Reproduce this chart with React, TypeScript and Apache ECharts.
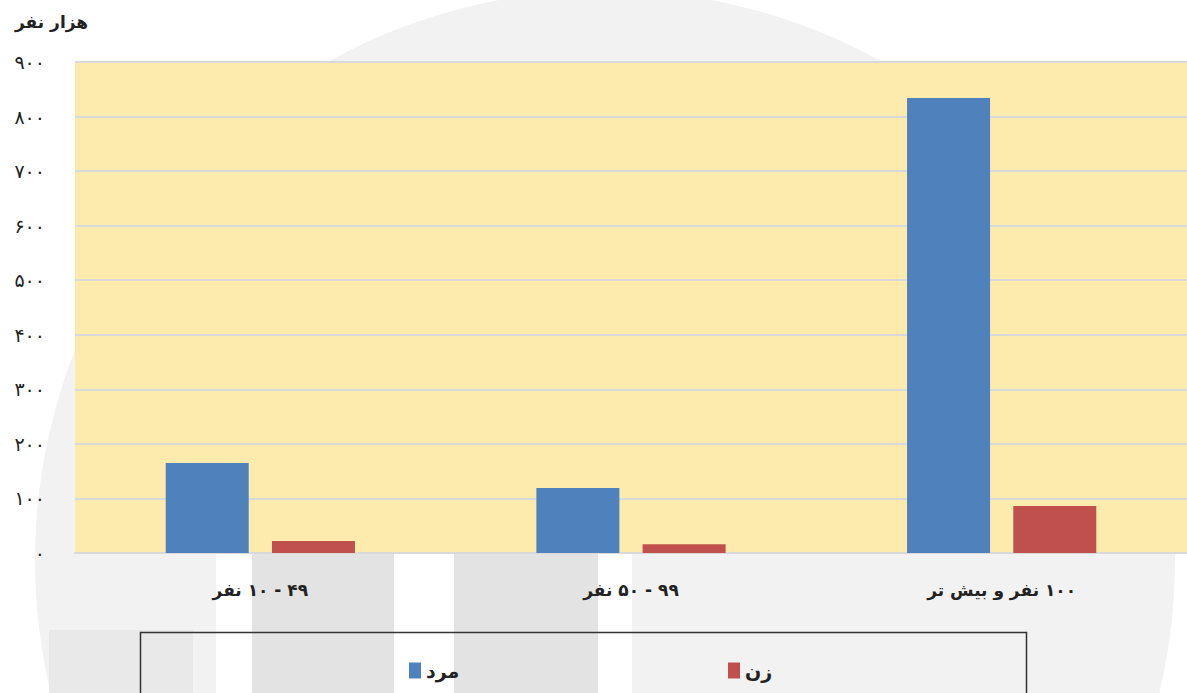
import React, { useEffect, useRef } from "react";
import * as echarts from "echarts";

const RLM = "\u200F";
const categories = [RLM + "۴۹ - ۱۰ نفر", RLM + "۹۹ - ۵۰ نفر", RLM + "۱۰۰ نفر و بیش تر"];
const maleValues = [165, 119, 834];
const femaleValues = [22, 16, 86];
const yTickLabels = ["۰", "۱۰۰", "۲۰۰", "۳۰۰", "۴۰۰", "۵۰۰", "۶۰۰", "۷۰۰", "۸۰۰", "۹۰۰"];
const seriesNames = ["مرد", "زن"];
const unitTitle = "هزار نفر";

const FONT = "'DejaVu Sans', 'Noto Sans', sans-serif";

export default function App() {
  const ref = useRef<HTMLDivElement>(null);
  useEffect(() => {
    const chart = echarts.init(ref.current!, null, { renderer: "svg" });
    chart.setOption({
      animation: false,
      backgroundColor: "#ffffff",
      title: {
        text: unitTitle,
        left: 10,
        top: 8,
        textStyle: { fontFamily: FONT, fontSize: 17, fontWeight: "bold", color: "#222" },
      },
      graphic: [
        { type: "circle", z: -10, shape: { cx: 605, cy: 560, r: 570 }, style: { fill: "#f2f2f2" } },
        { type: "rect", z: -9, shape: { x: 252, y: 420, width: 142, height: 273 }, style: { fill: "#e3e3e3" } },
        { type: "rect", z: -9, shape: { x: 454, y: 420, width: 144, height: 273 }, style: { fill: "#e3e3e3" } },
        { type: "rect", z: -9, shape: { x: 216, y: 420, width: 36, height: 273 }, style: { fill: "#ffffff" } },
        { type: "rect", z: -9, shape: { x: 394, y: 420, width: 60, height: 273 }, style: { fill: "#ffffff" } },
        { type: "rect", z: -9, shape: { x: 598, y: 420, width: 34, height: 273 }, style: { fill: "#ffffff" } },
        { type: "rect", z: -9, shape: { x: 49, y: 630, width: 144, height: 63 }, style: { fill: "#e9e9e9" } },
        {
          type: "rect",
          z: 5,
          shape: { x: 140.5, y: 632.5, width: 886, height: 70 },
          style: { fill: "none", stroke: "#333", lineWidth: 1.5 },
        },
      ],
      legend: [
        {
          data: [seriesNames[0]],
          left: 404,
          top: 656,
          icon: "rect",
          itemWidth: 12,
          itemHeight: 16,
          itemGap: 5,
          textStyle: { fontFamily: FONT, fontSize: 19, fontWeight: "bold", color: "#222" },
        },
        {
          data: [seriesNames[1]],
          left: 723,
          top: 656,
          icon: "rect",
          itemWidth: 12,
          itemHeight: 16,
          itemGap: 5,
          textStyle: { fontFamily: FONT, fontSize: 19, fontWeight: "bold", color: "#222" },
        },
      ],
      grid: {
        left: 75,
        right: 0,
        top: 62,
        bottom: 140,
        show: true,
        backgroundColor: "#FDEAAD",
        borderWidth: 0,
      },
      xAxis: {
        type: "category",
        data: categories,
        axisTick: { show: false },
        axisLine: { show: true, lineStyle: { color: "#d9d9d9", width: 2 } },
        axisLabel: {
          margin: 28,
          fontFamily: FONT,
          fontSize: 17,
          fontWeight: "bold",
          color: "#222",
        },
      },
      yAxis: {
        type: "value",
        min: 0,
        max: 900,
        interval: 100,
        axisLine: { show: false },
        axisTick: { show: false },
        splitLine: { show: true, lineStyle: { color: "#d9d9d9", width: 2 } },
        axisLabel: {
          margin: 30,
          fontFamily: FONT,
          fontSize: 19,
          color: "#222",
          formatter: (v: number) => yTickLabels[Math.round(v / 100)],
        },
      },
      series: [
        {
          name: seriesNames[0],
          type: "bar",
          data: maleValues,
          barWidth: 83,
          barGap: "28%",
          itemStyle: { color: "#4F81BD" },
        },
        {
          name: seriesNames[1],
          type: "bar",
          data: femaleValues,
          barWidth: 83,
          itemStyle: { color: "#C0504D" },
        },
      ],
    });
    return () => chart.dispose();
  }, []);
  return (
    <div
      ref={ref}
      style={{ position: "fixed", left: 0, top: 0, width: 1187, height: 693 }}
    />
  );
}
